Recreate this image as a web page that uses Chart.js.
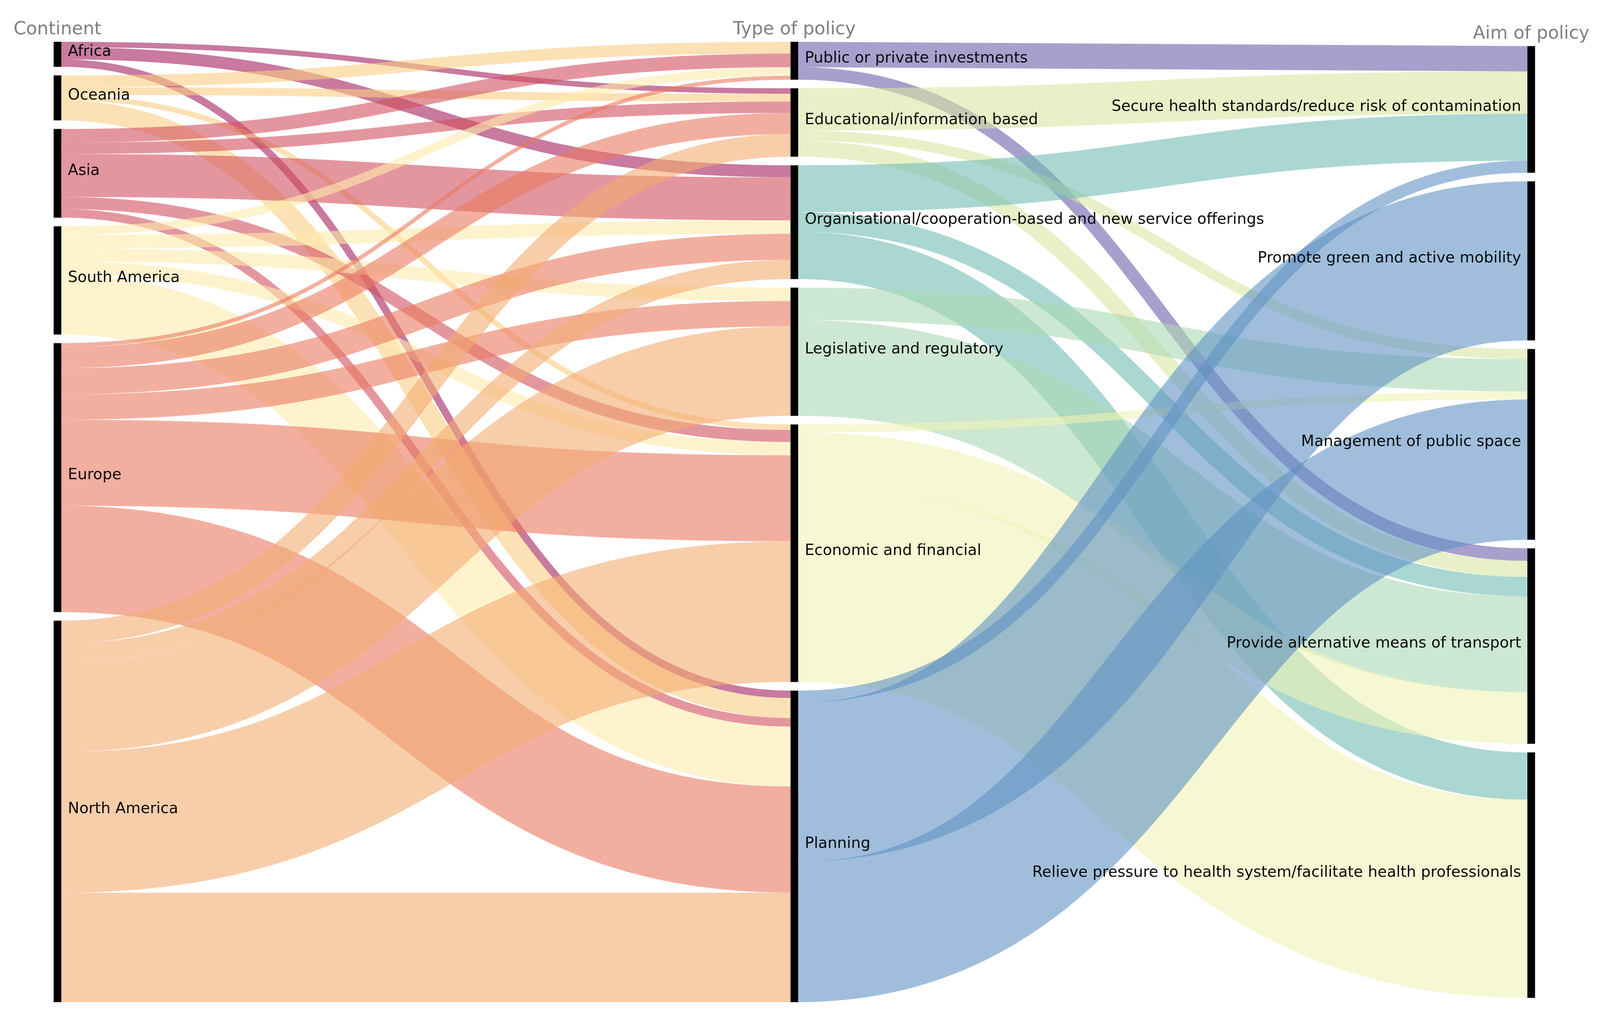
<!DOCTYPE html>
<html>
<head>
<meta charset="utf-8">
<script src="https://cdn.jsdelivr.net/npm/chart.js@4/dist/chart.umd.min.js"></script>
<style>
  html, body { margin: 0; padding: 0; background: #ffffff; overflow: hidden; }
  #wrap { position: fixed; left: 0; top: 0; width: 100vw; height: 100vh; }
  canvas { display: block; }
</style>
</head>
<body>
<div id="wrap"><canvas id="c"></canvas></div>
<script>
// ---------------- data ----------------
const columnTitles = ['Continent', 'Type of policy', 'Aim of policy'];

const continents = ['Africa', 'Oceania', 'Asia', 'South America', 'Europe', 'North America'];

const policyTypes = [
  'Public or private investments',
  'Educational/information based',
  'Organisational/cooperation-based and new service offerings',
  'Legislative and regulatory',
  'Economic and financial',
  'Planning'
];

const aims = [
  'Secure health standards/reduce risk of contamination',
  'Promote green and active mobility',
  'Management of public space',
  'Provide alternative means of transport',
  'Relieve pressure to health system/facilitate health professionals'
];

// rows: continents, columns: policy types (same order as policyTypes)
const africaFlows       = [0, 14, 31, 0, 0, 19];
const oceaniaFlows      = [30, 20, 0, 0, 14, 51];
const asiaFlows         = [35, 29, 110, 0, 31, 22];
const southAmericaFlows = [22, 0, 34, 34, 34, 153];
const europeFlows       = [10, 54, 67, 65, 220, 272];
const northAmericaFlows = [0, 58, 49, 229, 360, 280];
const continentToPolicy = [africaFlows, oceaniaFlows, asiaFlows, southAmericaFlows, europeFlows, northAmericaFlows];

// rows: policy types, columns: aims (same order as aims)
const investmentsToAim    = [65, 0, 0, 32, 0];
const educationalToAim    = [108, 0, 26, 41, 0];
const organisationalToAim = [120, 0, 0, 50, 121];
const legislativeToAim    = [0, 0, 83, 245, 0];
const economicToAim       = [0, 0, 20, 132, 507];
const planningToAim       = [31, 407, 359, 0, 0];
const policyToAim = [investmentsToAim, educationalToAim, organisationalToAim, legislativeToAim, economicToAim, planningToAim];

// ---------------- style ----------------
const continentColors = ['#a3215f', '#facd82', '#d2505f', '#ffebac', '#e97a61', '#f3ac71'];
const policyColors    = ['#705fac', '#d9e6a3', '#71bcb4', '#acd9b4', '#eef3b4', '#6193c5'];
const LINK_ALPHA = 0.6;
const REF_W = 4384, REF_H = 2604;   // reference frame for relative sizes
const NODE_W = 21;                  // px in reference frame
const NODE_GAP = 22;                // value units
const LABEL_PX = 42, TITLE_PX = 49;

function hexToRgba(hex, a) {
  const n = parseInt(hex.slice(1), 16);
  return 'rgba(' + ((n >> 16) & 255) + ',' + ((n >> 8) & 255) + ',' + (n & 255) + ',' + a + ')';
}
const sum = arr => arr.reduce((s, v) => s + v, 0);

// node values per column
const colValues = [
  continentToPolicy.map(r => sum(r)),
  policyTypes.map((_, j) => Math.max(sum(continentToPolicy.map(r => r[j])), sum(policyToAim[j]))),
  aims.map((_, k) => sum(policyToAim.map(r => r[k])))
];
const colLabels = [continents, policyTypes, aims];
const colHeights = colValues.map(v => sum(v) + (v.length - 1) * NODE_GAP);
const Y_MAX = Math.max(...colHeights);

function layoutColumn(ci) {
  const vals = colValues[ci];
  let y = (Y_MAX - colHeights[ci]) / 2;
  return vals.map(v => { const n = { y0: y, y1: y + v }; y += v + NODE_GAP; return n; });
}
const nodes = [0, 1, 2].map(layoutColumn);

function buildLinks(matrix, srcCol, tgtCol, colors) {
  const links = [];
  const srcOff = nodes[srcCol].map(n => n.y0);
  const tgtOff = nodes[tgtCol].map(n => n.y0);
  const srcPos = {}, tgtPos = {};
  matrix.forEach((row, i) => row.forEach((v, j) => {
    if (v > 0) { srcPos[i + '_' + j] = srcOff[i]; srcOff[i] += v; }
  }));
  for (let j = 0; j < matrix[0].length; j++) {
    for (let i = 0; i < matrix.length; i++) {
      const v = matrix[i][j];
      if (v > 0) { tgtPos[i + '_' + j] = tgtOff[j]; tgtOff[j] += v; }
    }
  }
  matrix.forEach((row, i) => row.forEach((v, j) => {
    if (v > 0) links.push({ srcCol, tgtCol, v, sy: srcPos[i + '_' + j], ty: tgtPos[i + '_' + j], color: colors[i] });
  }));
  return links;
}
const links = buildLinks(continentToPolicy, 0, 1, continentColors)
  .concat(buildLinks(policyToAim, 1, 2, policyColors));

const sankeyPlugin = {
  id: 'sankeyPlugin',
  afterDraw(chart) {
    const ctx = chart.ctx;
    const xs = chart.scales.x, ys = chart.scales.y;
    const sx = chart.width / REF_W, sy = chart.height / REF_H, sf = Math.min(sx, sy);
    const nw = NODE_W * sx;
    const cx = ci => xs.getPixelForValue(ci);

    ctx.save();
    links.forEach(l => {
      const x0 = cx(l.srcCol) + nw / 2;
      const x1 = cx(l.tgtCol) - nw / 2;
      const yA = ys.getPixelForValue(l.sy + l.v / 2);
      const yB = ys.getPixelForValue(l.ty + l.v / 2);
      const w = Math.abs(ys.getPixelForValue(l.v) - ys.getPixelForValue(0));
      const xm = (x0 + x1) / 2;
      ctx.beginPath();
      ctx.moveTo(x0, yA);
      ctx.bezierCurveTo(xm, yA, xm, yB, x1, yB);
      ctx.lineWidth = w;
      ctx.lineCap = 'butt';
      ctx.strokeStyle = hexToRgba(l.color, LINK_ALPHA);
      ctx.stroke();
    });

    ctx.fillStyle = '#000000';
    nodes.forEach((col, ci) => col.forEach(n => {
      const top = ys.getPixelForValue(n.y0);
      const bot = ys.getPixelForValue(n.y1);
      ctx.fillRect(cx(ci) - nw / 2, top, nw, bot - top);
    }));

    ctx.font = Math.round(LABEL_PX * sf) + "px 'DejaVu Sans', sans-serif";
    ctx.fillStyle = '#0a0a0a';
    ctx.textBaseline = 'middle';
    nodes.forEach((col, ci) => col.forEach((n, ni) => {
      const ym = (ys.getPixelForValue(n.y0) + ys.getPixelForValue(n.y1)) / 2 - 6 * sy;
      if (ci < 2) {
        ctx.textAlign = 'left';
        ctx.fillText(colLabels[ci][ni], cx(ci) + nw / 2 + 18 * sx, ym);
      } else {
        ctx.textAlign = 'right';
        ctx.fillText(colLabels[ci][ni], cx(ci) - nw / 2 - 17 * sx, ym);
      }
    }));

    ctx.font = Math.round(TITLE_PX * sf) + "px 'DejaVu Sans', sans-serif";
    ctx.fillStyle = '#808080';
    ctx.textAlign = 'center';
    ctx.textBaseline = 'alphabetic';
    columnTitles.forEach((t, ci) => {
      const top = ys.getPixelForValue(nodes[ci][0].y0);
      ctx.fillText(t, cx(ci), top - 19 * sy);
    });
    ctx.restore();
  }
};

new Chart(document.getElementById('c'), {
  type: 'scatter',
  data: { datasets: [] },
  options: {
    responsive: true,
    maintainAspectRatio: false,
    animation: false,
    layout: {
      padding: (c) => {
        const w = c.chart.width, h = c.chart.height;
        return { left: w * 157.5 / REF_W, right: w * 188.5 / REF_W, top: h * 107 / REF_H, bottom: h * 38 / REF_H };
      }
    },
    scales: {
      x: { type: 'linear', min: 0, max: 2, display: false },
      y: { type: 'linear', min: 0, max: Y_MAX, reverse: true, display: false }
    },
    plugins: { legend: { display: false }, tooltip: { enabled: false }, title: { display: false } }
  },
  plugins: [sankeyPlugin]
});
</script>
</body>
</html>
